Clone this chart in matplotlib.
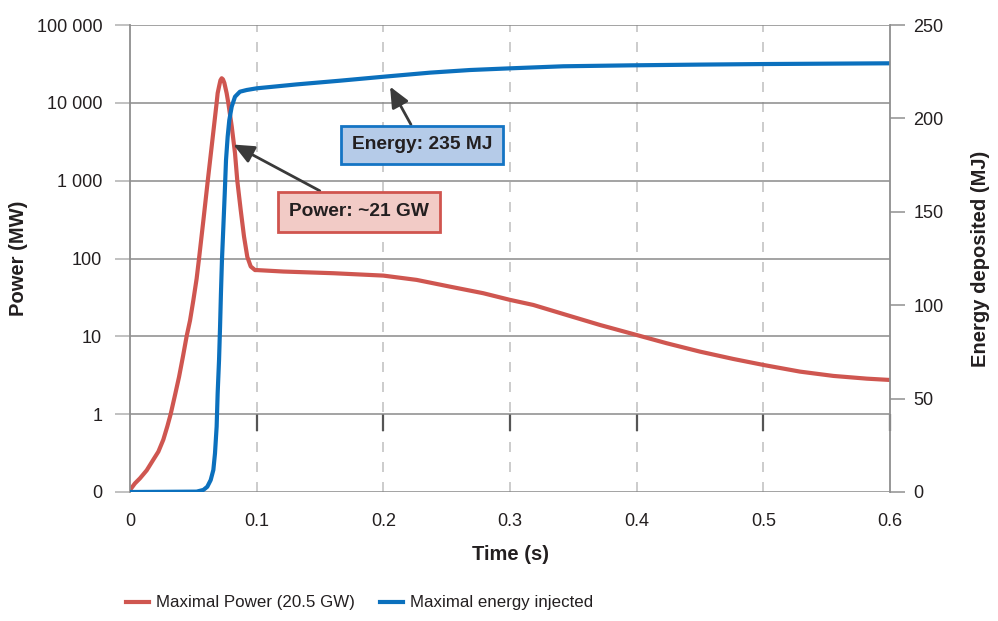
import numpy as np
import matplotlib
matplotlib.use("Agg")
import matplotlib.pyplot as plt
from matplotlib.ticker import FixedLocator, FixedFormatter

plt.rcParams['font.family'] = ['Liberation Sans Narrow', 'Liberation Sans', 'DejaVu Sans']

# power curve (MW, log axis)
t_power = [0, 0.0039, 0.0079, 0.0132, 0.0184, 0.0224, 0.0263, 0.0295, 0.0321, 0.0355,
           0.0387, 0.0418, 0.0447, 0.0474, 0.05, 0.0526, 0.0545, 0.058, 0.0614, 0.0649,
           0.0684, 0.0692, 0.0703, 0.0714, 0.0724, 0.0734, 0.0745, 0.0763, 0.0776, 0.0803,
           0.0829, 0.0847, 0.0874, 0.09, 0.0926, 0.0953, 0.0987, 0.1003, 0.121, 0.1605,
           0.2, 0.2263, 0.2526, 0.2789, 0.3, 0.3184, 0.3447, 0.371, 0.4, 0.4237,
           0.45, 0.4763, 0.5, 0.529, 0.5553, 0.5816, 0.6]
power = [0.106, 0.129, 0.15, 0.19, 0.26, 0.33, 0.47, 0.7, 1.0, 1.75,
         3.0, 5.5, 10, 16, 29, 55, 100, 316, 1000, 3160,
         10000, 13300, 16200, 19500, 20700, 20000, 18000, 13300, 10000, 5000,
         2250, 1000, 420, 192, 105, 79, 71, 71, 68, 64.7,
         60.3, 53.1, 43.5, 35.8, 29.4, 25.3, 18.8, 14.0, 10.4, 8.15,
         6.36, 5.12, 4.29, 3.52, 3.1, 2.86, 2.75]

# energy curve (MJ)
t_energy = [0, 0.0526, 0.0579, 0.061, 0.0637, 0.0658, 0.0671, 0.0684, 0.0692, 0.0703,
            0.0711, 0.0718, 0.0726, 0.0737, 0.0748, 0.0758, 0.0771, 0.0784, 0.0803, 0.0829,
            0.0868, 0.0921, 0.1, 0.1316, 0.166, 0.2, 0.237, 0.2684, 0.3, 0.342,
            0.395, 0.45, 0.5, 0.6]
energy = [0, 0.2, 1.1, 2.8, 6.4, 11.8, 20.7, 35, 52.8, 70.7,
          88.5, 106.4, 124.2, 142, 159.9, 177.7, 190.2, 199.1, 206.3, 211.6,
          214.3, 215.2, 216.1, 218.2, 220.2, 222.3, 224.5, 225.9, 226.8, 227.9,
          228.4, 228.8, 229.1, 229.5]

power_ticks = [0.1, 1, 10, 100, 1000, 10000, 100000]
power_labels = ['0', '1', '10', '100', '1 000', '10 000', '100 000']
energy_ticks = [0, 50, 100, 150, 200, 250]
time_ticks = [0, 0.1, 0.2, 0.3, 0.4, 0.5, 0.6]

red = '#cf5650'
blue = '#0b70bd'
txt = '#231f20'
gridc = '#8a8a8a'

fig = plt.figure(figsize=(9.98, 6.21), dpi=100)
ax = fig.add_axes([130/998, 1-492/621, 760/998, 467/621])
ax2 = ax.twinx()

l1, = ax.plot(t_power, power, color=red, lw=3, solid_joinstyle='round', label='Maximal Power (20.5 GW)')
l2, = ax2.plot(t_energy, energy, color=blue, lw=3, solid_joinstyle='round', label='Maximal energy injected')

ax.set_yscale('log')
ax.set_ylim(0.1, 100000)
ax.set_xlim(0, 0.6)
ax2.set_ylim(0, 250)

ax.yaxis.set_major_locator(FixedLocator(power_ticks))
ax.yaxis.set_major_formatter(FixedFormatter(power_labels))
ax.yaxis.set_minor_locator(FixedLocator([]))
ax.set_xticks(time_ticks)
ax.set_xticklabels(['0', '0.1', '0.2', '0.3', '0.4', '0.5', '0.6'])
ax2.set_yticks(energy_ticks)

ax.grid(axis='y', color=gridc, lw=1.1)
for x in time_ticks[1:-1]:
    ax.axvline(x, color='#c4c4c4', lw=1.2, ls=(0, (6, 6)), zorder=0)

for a in (ax, ax2):
    for s in a.spines.values():
        s.set_visible(False)
ax.spines['left'].set_visible(True)
ax.spines['left'].set_color('#8f8f8f')
ax.spines['left'].set_linewidth(1.3)
ax2.spines['right'].set_visible(True)
ax2.spines['right'].set_color('#8f8f8f')
ax2.spines['right'].set_linewidth(1.3)

ax.tick_params(axis='y', length=11, width=1.1, color='#b0b0b0', pad=9, labelsize=13, labelcolor=txt)
ax.tick_params(axis='x', length=0, pad=15, labelsize=13, labelcolor=txt)
ax2.tick_params(axis='y', length=11, width=1.1, color='#8f8f8f', pad=6, labelsize=13, labelcolor=txt)

# x tick marks sit on the "1" line
sec = ax.secondary_xaxis(1/6)
sec.set_xticks(time_ticks[1:])
sec.tick_params(axis='x', direction='out', length=12, width=1.6, color='#555555', labelbottom=False)
for s in sec.spines.values():
    s.set_visible(False)

ax.set_xlabel('Time (s)', fontsize=14.5, fontweight='bold', color=txt, labelpad=11)
ax.set_ylabel('Power (MW)', fontsize=14.5, fontweight='bold', color=txt, va='center')
ax.yaxis.set_label_coords(-0.147, 0.5)
ax2.set_ylabel('Energy deposited (MJ)', fontsize=14.5, fontweight='bold', color=txt, va='center')
ax2.yaxis.set_label_coords(1.119, 0.5)

ax2.annotate('Energy: 235 MJ', xy=(0.2053, 217), xytext=(0.2305, 186),
             fontsize=13.8, fontweight='bold', color=txt, ha='center', va='center',
             bbox=dict(boxstyle='square,pad=0.55', fc='#b5cbe8', ec='#1474c4', lw=2),
             arrowprops=dict(arrowstyle='-|>,head_length=0.9,head_width=0.4', color='#3a3a3a', lw=2,
                             shrinkA=0, shrinkB=0))
ax2.annotate('Power: ~21 GW', xy=(0.0816, 186), xytext=(0.1808, 150),
             fontsize=13.8, fontweight='bold', color=txt, ha='center', va='center',
             bbox=dict(boxstyle='square,pad=0.6', fc='#f2cbc6', ec='#d0554f', lw=2),
             arrowprops=dict(arrowstyle='-|>,head_length=0.9,head_width=0.4', color='#3a3a3a', lw=2,
                             shrinkA=0, shrinkB=0))

fig.legend(handles=[l1, l2], loc='center', bbox_to_anchor=(0.36, 0.029), ncol=2, frameon=False,
           fontsize=12.2, handlelength=1.35, columnspacing=1.5, handletextpad=0.4, labelcolor=txt)

fig.savefig('out.png', dpi=100)
